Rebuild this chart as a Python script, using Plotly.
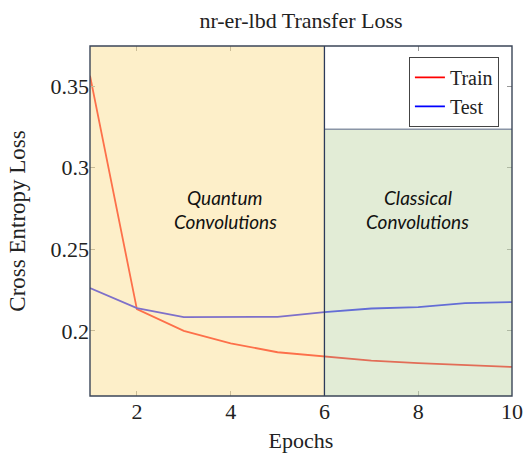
import plotly.graph_objects as go

# Loss per epoch for the nr-er-lbd transfer run
epochs = [1, 2, 3, 4, 5, 6, 7, 8, 9, 10]
train_loss = [0.3563, 0.2133, 0.2000, 0.1924, 0.1869, 0.1843, 0.1818, 0.1802, 0.1790, 0.1779]
test_loss = [0.2262, 0.2139, 0.2084, 0.2087, 0.2086, 0.2115, 0.2137, 0.2145, 0.2170, 0.2176]

# Training phases
quantum_phase = (1, 6)
classical_phase = (6, 10)
classical_top = 0.3235

x_ticks = [2, 4, 6, 8, 10]
y_ticks = [0.2, 0.25, 0.3, 0.35]
y_tick_text = ["0.2", "0.25", "0.3", "0.35"]

serif = "Liberation Serif, Times New Roman, serif"
frame_color = "#3b4658"

fig = go.Figure()
fig.add_trace(go.Scatter(x=epochs, y=train_loss, mode="lines", name="Train",
                         line=dict(color="#ff0000", width=1.8)))
fig.add_trace(go.Scatter(x=epochs, y=test_loss, mode="lines", name="Test",
                         line=dict(color="#0000ff", width=1.8)))

# Translucent phase panels drawn over the curves
fig.add_shape(type="rect", xref="x", yref="paper",
              x0=quantum_phase[0], x1=quantum_phase[1], y0=0, y1=1,
              fillcolor="rgb(251,223,147)", opacity=0.5, line_width=0, layer="above")
fig.add_shape(type="rect", xref="x", yref="y",
              x0=classical_phase[0], x1=classical_phase[1], y0=0.1, y1=classical_top,
              fillcolor="rgb(197,217,173)", opacity=0.5, line_width=0, layer="above")
fig.add_shape(type="line", xref="x", yref="y",
              x0=classical_phase[0], x1=classical_phase[1], y0=classical_top, y1=classical_top,
              line=dict(color="#8a95a6", width=1.5), layer="above")
fig.add_shape(type="line", xref="x", yref="paper",
              x0=classical_phase[0], x1=classical_phase[0], y0=0, y1=1,
              line=dict(color="#2c3a5a", width=1.3), layer="above")
# Axis frame
fig.add_shape(type="rect", xref="paper", yref="paper", x0=0, x1=1, y0=0, y1=1,
              line=dict(color=frame_color, width=1.4), fillcolor="rgba(0,0,0,0)", layer="above")

label_font = dict(family="Lato, sans-serif", size=19, color="#111")
fig.add_annotation(x=3.88, y=0.2820, xref="x", yref="y", text="<i>Quantum</i>",
                   showarrow=False, font=label_font)
fig.add_annotation(x=3.88, y=0.2667, xref="x", yref="y", text="<i>Convolutions</i>",
                   showarrow=False, font=label_font)
fig.add_annotation(x=7.99, y=0.2820, xref="x", yref="y", text="<i>Classical</i>",
                   showarrow=False, font=label_font)
fig.add_annotation(x=7.99, y=0.2667, xref="x", yref="y", text="<i>Convolutions</i>",
                   showarrow=False, font=label_font)

fig.update_layout(
    width=526, height=458, autosize=False,
    margin=dict(l=90, r=14, t=46, b=62, autoexpand=False),
    paper_bgcolor="white", plot_bgcolor="white",
    font=dict(family=serif, size=22, color="#222"),
    title=dict(text="nr-er-lbd Transfer Loss", x=0.5, xref="paper", xanchor="center",
               y=0.955, yref="container", yanchor="middle",
               font=dict(family=serif, size=22, color="#222")),
    showlegend=True,
    legend=dict(x=0.969, y=0.969, xanchor="right", yanchor="top",
                bgcolor="white", bordercolor="#444", borderwidth=1,
                font=dict(family=serif, size=20, color="#222"),
                tracegroupgap=0, itemwidth=30),
    xaxis=dict(range=[1, 10], tickvals=x_ticks, ticks="inside", ticklen=5,
               tickcolor="#999", mirror="ticks", showgrid=False, zeroline=False,
               showline=False, automargin=False,
               title=dict(text="Epochs", standoff=9, font=dict(size=22))),
    yaxis=dict(range=[0.1601, 0.3745], tickvals=y_ticks, ticktext=y_tick_text,
               ticks="inside", ticklen=5, tickcolor="#999", mirror="ticks",
               showgrid=False, zeroline=False, showline=False, automargin=False,
               title=dict(text="Cross Entropy Loss", standoff=18, font=dict(size=23))),
)

fig.write_html("out.html")
